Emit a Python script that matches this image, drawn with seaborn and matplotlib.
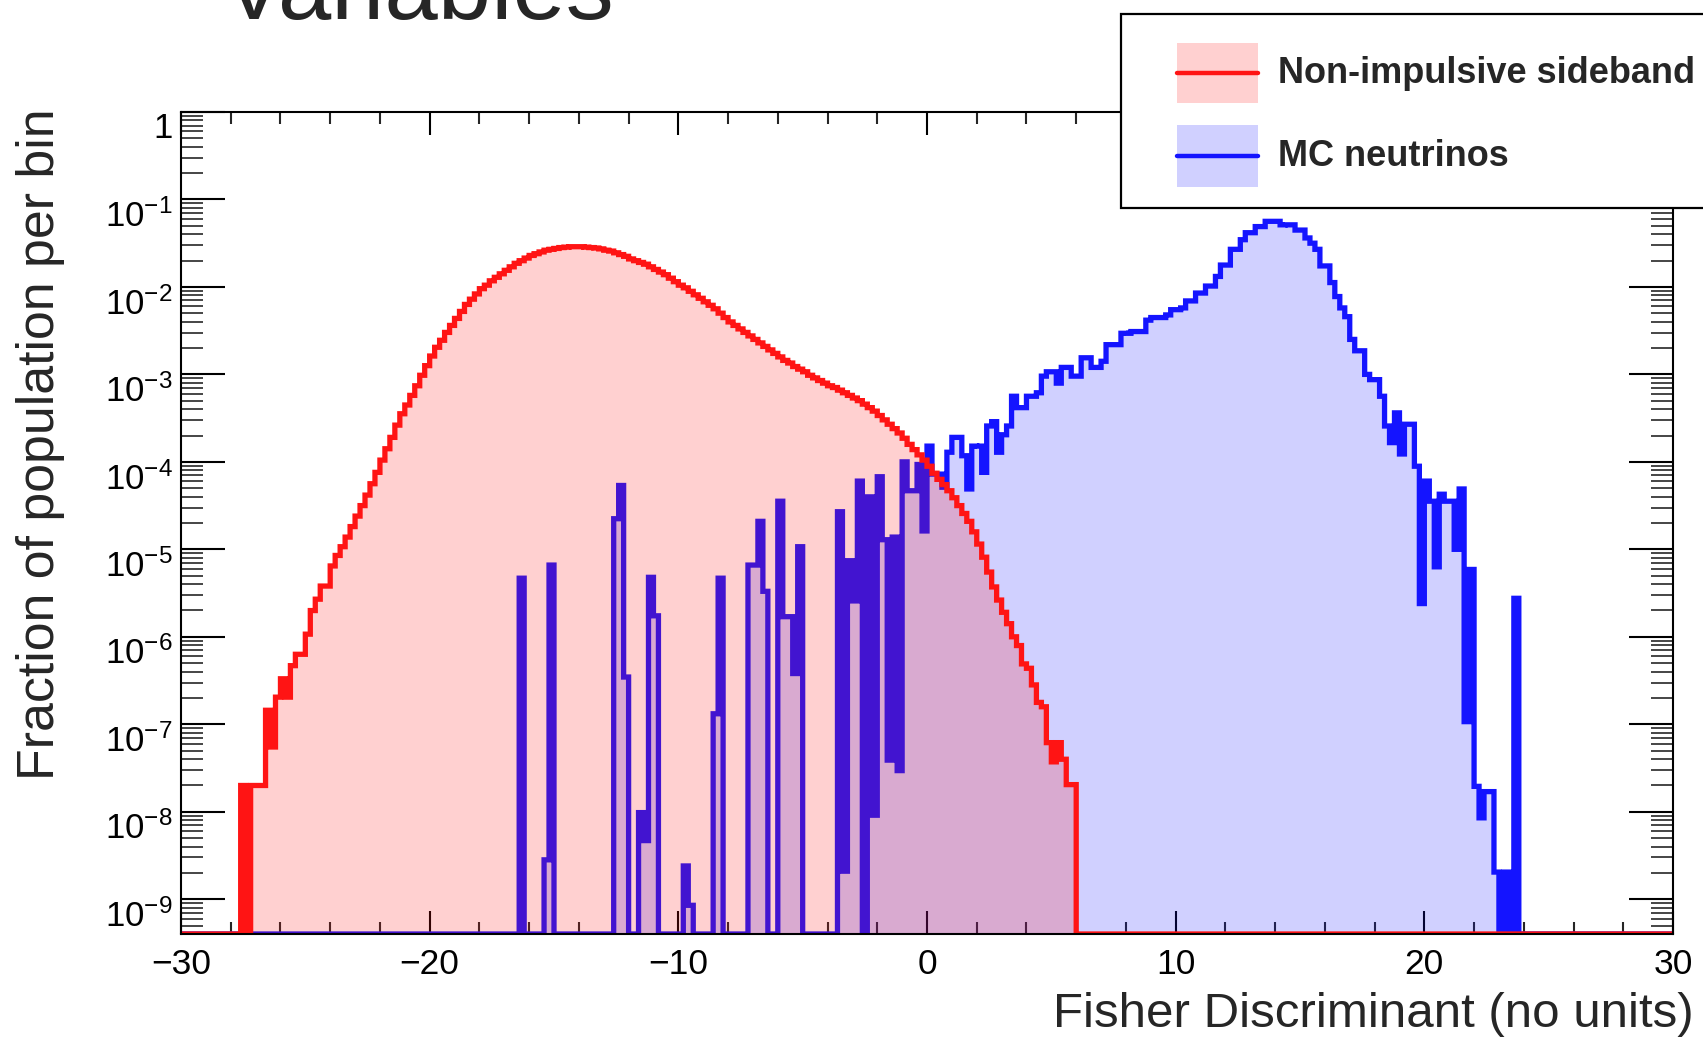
import numpy as np
import pandas as pd
import matplotlib
matplotlib.use("Agg")
import matplotlib.pyplot as plt
import seaborn as sns
from matplotlib.ticker import MultipleLocator, LogLocator, FuncFormatter, NullFormatter
from matplotlib.patches import Rectangle
from matplotlib.lines import Line2D

# ---------------- data ----------------
BIN_WIDTH = 0.2
X_MIN, X_MAX = -30.0, 30.0
Y_MIN, Y_MAX = 4.0e-10, 1.0

x_ticks_major = [-30, -20, -10, 0, 10, 20, 30]

# Non-impulsive sideband: log10(fraction per bin), consecutive 0.2-wide bins
red_a_start = -27.6
red_a_log10 = [-7.70, None, -7.70, -7.70, -7.70,
               -6.84, -7.26, -6.69, -6.48, -6.69,
               -6.33, -6.20, -6.20, -5.97, -5.70,
               -5.57, -5.42, -5.42, -5.19, -5.07,
               -4.97, -4.86, -4.74, -4.62, -4.50,
               -4.38, -4.25, -4.12, -3.98, -3.85,
               -3.72, -3.58, -3.45, -3.35, -3.24,
               -3.13, -3.01, -2.90, -2.79, -2.69,
               -2.61, -2.52, -2.44, -2.36, -2.28,
               -2.20, -2.14, -2.08, -2.02, -1.98]
red_b_start = -17.6
red_b_log10 = [-1.93, -1.89, -1.85, -1.81, -1.77,
               -1.73, -1.70, -1.67, -1.64, -1.62,
               -1.60, -1.58, -1.57, -1.56, -1.55,
               -1.545, -1.54, -1.54, -1.54, -1.545,
               -1.55, -1.555, -1.565, -1.58, -1.59,
               -1.61, -1.63, -1.65, -1.68, -1.70,
               -1.72, -1.74, -1.77, -1.80, -1.83,
               -1.86, -1.90, -1.94, -1.98, -2.01,
               -2.05, -2.09, -2.13, -2.17, -2.21,
               -2.25, -2.30, -2.35, -2.40, -2.44,
               -2.48, -2.52, -2.56, -2.60, -2.64,
               -2.68, -2.72, -2.76, -2.80, -2.84]
red_c_start = -5.6
red_c_log10 = [-2.87, -2.91, -2.94, -2.97, -3.01,
               -3.04, -3.07, -3.10, -3.13, -3.15,
               -3.18, -3.21, -3.24, -3.27, -3.30,
               -3.34, -3.38, -3.42, -3.47, -3.52,
               -3.57, -3.62, -3.67, -3.73, -3.80,
               -3.86, -3.92, -3.98, -4.05, -4.13,
               -4.20, -4.26, -4.33, -4.41, -4.50,
               -4.59, -4.68, -4.80, -4.94, -5.09,
               -5.26, -5.43, -5.58, -5.72, -5.85,
               -6.00, -6.10, -6.31, -6.36, -6.55,
               -6.75, -6.80, -7.21, -7.43, -7.21,
               -7.40, -7.69, -7.69]

# MC neutrinos: isolated populated bins (left edge, log10 value)
blue_spike_edges = [-16.4, -15.4, -15.2, -12.6, -12.4, -12.2, -11.6, -11.4, -11.2, -11.0,
                    -9.8, -9.6, -8.6, -8.4, -7.2, -7.0, -6.8, -6.6, -6.0, -5.8,
                    -5.6, -5.4, -5.2, -3.6, -3.4, -3.2, -3.0, -2.8, -2.4, -2.2,
                    -2.0, -1.8, -1.6, -1.4, -1.2, -1.0, -0.8, -0.6, -0.4, -0.2]
blue_spike_log10 = [-5.33, -8.55, -5.18, -4.65, -4.27, -6.46, -8.01, -8.33, -5.32, -5.76,
                    -8.62, -9.07, -6.88, -5.33, -5.18, -5.18, -4.68, -5.48, -4.45, -5.77,
                    -5.77, -6.42, -4.97, -4.57, -8.68, -5.13, -5.59, -4.22, -4.40, -8.04,
                    -4.17, -4.89, -7.41, -4.86, -7.53, -4.00, -4.33, -4.33, -4.03, -4.79]
# MC neutrinos: consecutive 0.2-wide bins
blue_rise_start = 0.0
blue_rise_log10 = [-3.82, -4.14, -4.14, -4.29, -3.89,
                   -3.72, -3.72, -3.93, -4.31, -3.82,
                   -3.82, -4.12, -3.59, -3.54, -3.89,
                   -3.69, -3.59, -3.25, -3.38, -3.38,
                   -3.25, -3.25, -3.21, -3.02, -2.97,
                   -2.97, -3.10, -2.92, -2.92, -3.02,
                   -3.02, -2.81, -2.81, -2.92, -2.92,
                   -2.85, -2.66, -2.66, -2.66, -2.53,
                   -2.53, -2.51, -2.51, -2.51, -2.38,
                   -2.35, -2.35, -2.35, -2.32, -2.26]
blue_peak_start = 10.0
blue_peak_log10 = [-2.26, -2.24, -2.16, -2.16, -2.07,
                   -2.07, -1.99, -1.99, -1.88, -1.75,
                   -1.75, -1.57, -1.57, -1.46, -1.38,
                   -1.38, -1.31, -1.31, -1.25, -1.25,
                   -1.25, -1.29, -1.29, -1.29, -1.35,
                   -1.35, -1.44, -1.50, -1.57, -1.76,
                   -1.76, -1.95, -2.11, -2.24, -2.34,
                   -2.60, -2.73, -2.73, -3.00, -3.06]
blue_tail_start = 18.0
blue_tail_log10 = [-3.06, -3.25, -3.59, -3.78, -3.44,
                   -3.91, -3.57, -3.57, -4.05, -5.62,
                   -4.22, -4.45, -5.20, -4.37, -4.45,
                   -4.45, -5.00, -4.31, -6.97, -5.23,
                   -7.71, -8.07, -7.77, -7.77, -8.69,
                   None, -8.69, None, -5.56]

RED = "#ff1414"
BLUE = "#1414ff"
LW = 3.8

# ---------------- style ----------------
sns.set_style("ticks")
plt.rcParams["font.family"] = ["Liberation Sans", "DejaVu Sans"]
plt.rcParams["mathtext.fontset"] = "custom"
plt.rcParams["mathtext.rm"] = "Liberation Sans"
plt.rcParams["mathtext.it"] = "Liberation Sans:italic"
plt.rcParams["mathtext.bf"] = "Liberation Sans:bold"

W, H = 1703, 1038
fig = plt.figure(figsize=(W / 100, H / 100), dpi=100, facecolor="white")


def fx(px):
    return px / W


def fy(py):
    return 1 - py / H


ax = fig.add_axes([fx(181), fy(934), (1673 - 181) / W, (934 - 112) / H])

edges = np.round(np.arange(X_MIN, X_MAX + BIN_WIDTH / 2, BIN_WIDTH), 6)
centers = np.round(edges[:-1] + BIN_WIDTH / 2, 6)


def bin_heights(segments):
    h = np.full(len(centers), Y_MIN)  # empty bins sit on the bottom of the frame
    for start, vals in segments:
        i0 = int(round((start - X_MIN) / BIN_WIDTH))
        for i, v in enumerate(vals):
            if v is not None:
                h[i0 + i] = 10.0 ** v
    return h


red_h = bin_heights([(red_a_start, red_a_log10), (red_b_start, red_b_log10),
                     (red_c_start, red_c_log10)])
blue_h = bin_heights([(e, [v]) for e, v in zip(blue_spike_edges, blue_spike_log10)]
                     + [(blue_rise_start, blue_rise_log10),
                        (blue_peak_start, blue_peak_log10),
                        (blue_tail_start, blue_tail_log10)])

df = pd.DataFrame({"fisher": centers, "sideband": red_h, "neutrino": blue_h})
bin_list = edges.tolist()

sns.histplot(data=df, x="fisher", weights="neutrino", bins=bin_list, element="step",
             fill=True, color=BLUE, alpha=0.2, linewidth=LW, joinstyle="miter", ax=ax)
sns.histplot(data=df, x="fisher", weights="sideband", bins=bin_list, element="step",
             fill=True, color=RED, alpha=0.2, linewidth=LW, joinstyle="miter", ax=ax)

ax.set_yscale("log")
ax.set_xlim(X_MIN, X_MAX)
ax.set_ylim(Y_MIN, Y_MAX)
ax.set_xlabel("")
ax.set_ylabel("")

for s in ax.spines.values():
    s.set_linewidth(1.5)
    s.set_color("black")

ax.set_xticks(x_ticks_major)
ax.xaxis.set_minor_locator(MultipleLocator(2))
ax.yaxis.set_major_locator(LogLocator(base=10, numticks=20))
ax.yaxis.set_minor_locator(LogLocator(base=10, subs=np.arange(2, 10), numticks=200))
ax.yaxis.set_minor_formatter(NullFormatter())


def ylab(v, pos):
    e = int(round(np.log10(v)))
    return "1" if e == 0 else r"10$^{%d}$" % e


ax.yaxis.set_major_formatter(FuncFormatter(ylab))

ax.tick_params(axis="x", which="major", direction="in", length=16.5, width=1.5,
               top=True, bottom=True, labelsize=25.5, pad=10, colors="black")
ax.tick_params(axis="x", which="minor", direction="in", length=8.5, width=1.5,
               top=True, bottom=True)
ax.tick_params(axis="y", which="major", direction="in", length=32, width=1.5,
               left=True, right=True, labelsize=25, pad=6, colors="black")
ax.tick_params(axis="y", which="minor", direction="in", length=16, width=1.2,
               left=True, right=True)
# ROOT hangs the exponent labels just below their tick
for lbl in ax.get_yticklabels():
    lbl.set_verticalalignment("top")

# axis titles
fig.text(fx(41), fy(108), "Fraction of population per bin", rotation=90,
         ha="center", va="top", fontsize=37.4)
fig.text(fx(1694), fy(1027), "Fisher Discriminant (no units)", ha="right",
         va="baseline", fontsize=35.5)

# partially visible title
fig.text(fx(222), fy(19), "Variables", ha="left", va="baseline", fontsize=69)

# legend box (extends past the right edge, as in the original)
fig.add_artist(Rectangle((fx(1121), fy(207.5)), fx(1800) - fx(1121), fy(14) - fy(207.5),
                         transform=fig.transFigure, facecolor="white",
                         edgecolor="black", linewidth=1.6, zorder=10))
legend_rows = [("Non-impulsive sideband", RED, 43.5, 103),
               ("MC neutrinos", BLUE, 125, 187)]
for label, col, top, bot in legend_rows:
    fig.add_artist(Rectangle((fx(1177), fy(bot)), fx(1258) - fx(1177), fy(top) - fy(bot),
                             transform=fig.transFigure, facecolor=col, alpha=0.2,
                             edgecolor="none", zorder=11))
    mid = (top + bot) / 2
    fig.add_artist(Line2D([fx(1177), fx(1258)], [fy(mid), fy(mid)],
                          transform=fig.transFigure, color=col, linewidth=3.2, zorder=12))
    fig.text(fx(1278), fy(mid), label, ha="left", va="center", fontsize=26,
             fontweight="bold", zorder=13)

fig.savefig("out.png", dpi=100, facecolor="white")
